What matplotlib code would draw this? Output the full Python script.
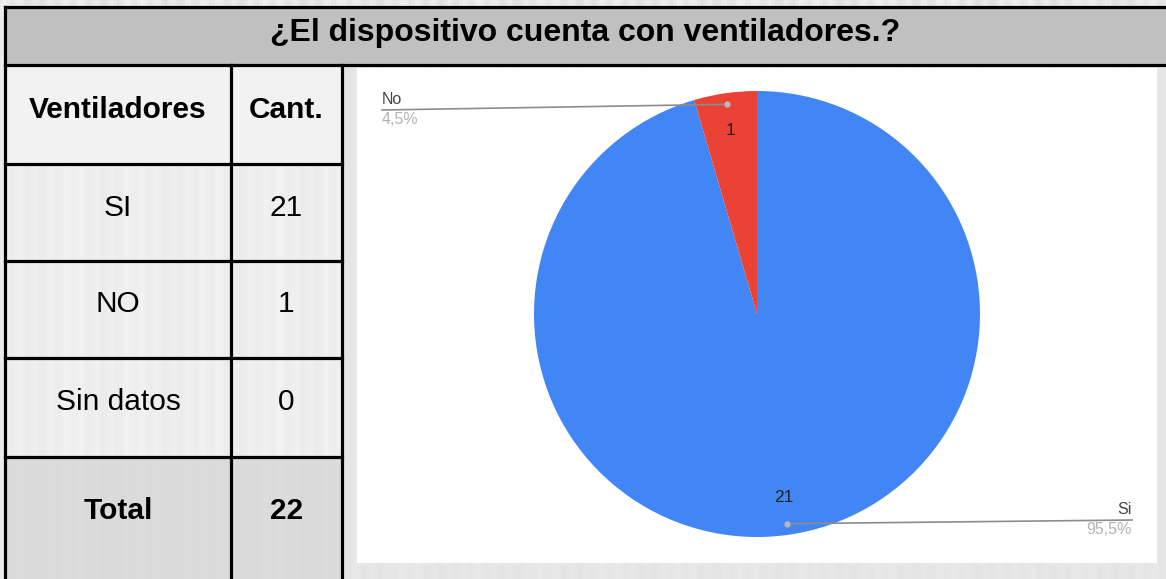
import numpy as np
import matplotlib.pyplot as plt
from matplotlib.patches import Rectangle

plt.rcParams['font.family'] = ['Liberation Sans', 'DejaVu Sans']

# table data
title = '¿El dispositivo cuenta con ventiladores.?'
col_headers = ['Ventiladores', 'Cant.']
row_labels = ['SI', 'NO', 'Sin datos']
row_counts = [21, 1, 0]
total_label = 'Total'

# pie data
pie_labels = ['Si', 'No']
pie_values = [21, 1]
pie_colors = ['#4285f4', '#ea4335']

W, H = 1166, 579
fig = plt.figure(figsize=(W / 100, H / 100), dpi=100)
ax = fig.add_axes([0, 0, 1, 1])
ax.set_xlim(0, W)
ax.set_ylim(H, 0)
ax.axis('off')

# faint striped background (page texture)
xs = np.arange(W)
stripe = 0.905 + 0.02 * np.sin(xs * 0.41) + 0.012 * np.sin(xs * 0.093 + 1.3) + 0.008 * np.sin(xs * 1.7)
bg = np.tile(stripe, (H, 1))
ax.imshow(bg, cmap='gray', vmin=0, vmax=1, extent=(0, W, H, 0), aspect='auto', zorder=0)

# table layout (pixels)
x_edges = [5, 231, 342]
y_title = (7, 65)
y_edges = [65, 164, 261, 358, 457, 579]
lw = 2.3

# title band
ax.add_patch(Rectangle((x_edges[0], y_title[0]), W - x_edges[0], y_title[1] - y_title[0],
                       facecolor='#c0c0c0', edgecolor='none', zorder=1))
ax.text((x_edges[0] + W) / 2, 33, title, ha='center', va='center',
        fontsize=23, fontweight='bold', color='black', zorder=3)

# cells
rows = [col_headers] + [[l, str(c)] for l, c in zip(row_labels, row_counts)] + [[total_label, str(sum(row_counts))]]
for i, row in enumerate(rows):
    y0, y1 = y_edges[i], y_edges[i + 1]
    bold = i == 0 or i == len(rows) - 1
    for j, txt in enumerate(row):
        x0, x1 = x_edges[j], x_edges[j + 1]
        if i == 0:
            fc, a = '#f2f2f2', 1.0
        elif i == len(rows) - 1:
            fc, a = '#d9d9d9', 0.85
        else:
            fc, a = '#f4f4f4', 0.6
        ax.add_patch(Rectangle((x0, y0), x1 - x0, y1 - y0, facecolor=fc, alpha=a,
                               edgecolor='none', zorder=1))
        yc = (y0 + y1) / 2 - 5 if i < len(rows) - 1 else y0 + 54
        ax.text((x0 + x1) / 2, yc, txt, ha='center', va='center', fontsize=21.5,
                fontweight='bold' if bold else 'normal', color='black', zorder=3)

# grid lines
ax.plot([x_edges[0], W], [y_title[0], y_title[0]], color='black', lw=lw, zorder=4)
ax.plot([x_edges[0], W], [y_title[1], y_title[1]], color='black', lw=lw, zorder=4)
for y in y_edges[1:-1]:
    ax.plot([x_edges[0], x_edges[-1]], [y, y], color='black', lw=lw, zorder=4)
ax.plot([x_edges[0], x_edges[0]], [y_title[0], H], color='black', lw=lw, zorder=4)
for x in x_edges[1:]:
    ax.plot([x, x], [y_title[1], H], color='black', lw=lw, zorder=4)

# pie cell: light frame with white chart box
ax.add_patch(Rectangle((x_edges[-1], y_title[1]), W - x_edges[-1], H - y_title[1],
                       facecolor='#e6e6e6', alpha=0.7, edgecolor='none', zorder=1))
ax.add_patch(Rectangle((357, 68), 1157 - 357, 563 - 68, facecolor='white',
                       edgecolor='none', zorder=2))

# pie chart
cx, cy, r = 757, 314, 223
pax = fig.add_axes([(cx - r) / W, (H - cy - r) / H, 2 * r / W, 2 * r / H])
total = sum(pie_values)
wedges, _, autotexts = pax.pie(pie_values, colors=pie_colors, startangle=90, counterclock=False,
                               autopct=lambda p: f'{round(p * total / 100):d}', pctdistance=0.83,
                               wedgeprops=dict(linewidth=0),
                               textprops=dict(fontsize=12.5, color='#222222'))
pax.set_xlim(-1, 1)
pax.set_ylim(-1, 1)
pax.set_aspect('equal')
pax.axis('off')

# overlay for outside labels with leader lines (drawn above the pie)
oax = fig.add_axes([0, 0, 1, 1])
oax.set_xlim(0, W)
oax.set_ylim(H, 0)
oax.axis('off')
oax.patch.set_alpha(0)

to_px = pax.transData + oax.transData.inverted()
label_ends = {'No': (382, 110, 'left'), 'Si': (1132, 520, 'right')}
for w, lab, v in zip(wedges, pie_labels, pie_values):
    th = np.deg2rad((w.theta1 + w.theta2) / 2)
    px, py = to_px.transform((0.95 * np.cos(th), 0.95 * np.sin(th)))
    lx, ly, ha = label_ends[lab]
    oax.plot([px, lx], [py, ly], color='#8c8c8c', lw=1.2, zorder=5)
    oax.plot([px], [py], 'o', color='#b8b8b8', ms=3.5, zorder=6)
    pct = f'{v / total * 100:.1f}%'.replace('.', ',')
    oax.text(lx, ly - 3, lab, ha=ha, va='bottom', fontsize=11.5, color='#444444', zorder=6)
    oax.text(lx, ly + 2, pct, ha=ha, va='top', fontsize=11.5, color='#b3b3b3', zorder=6)

fig.savefig('out.png', dpi=100)
